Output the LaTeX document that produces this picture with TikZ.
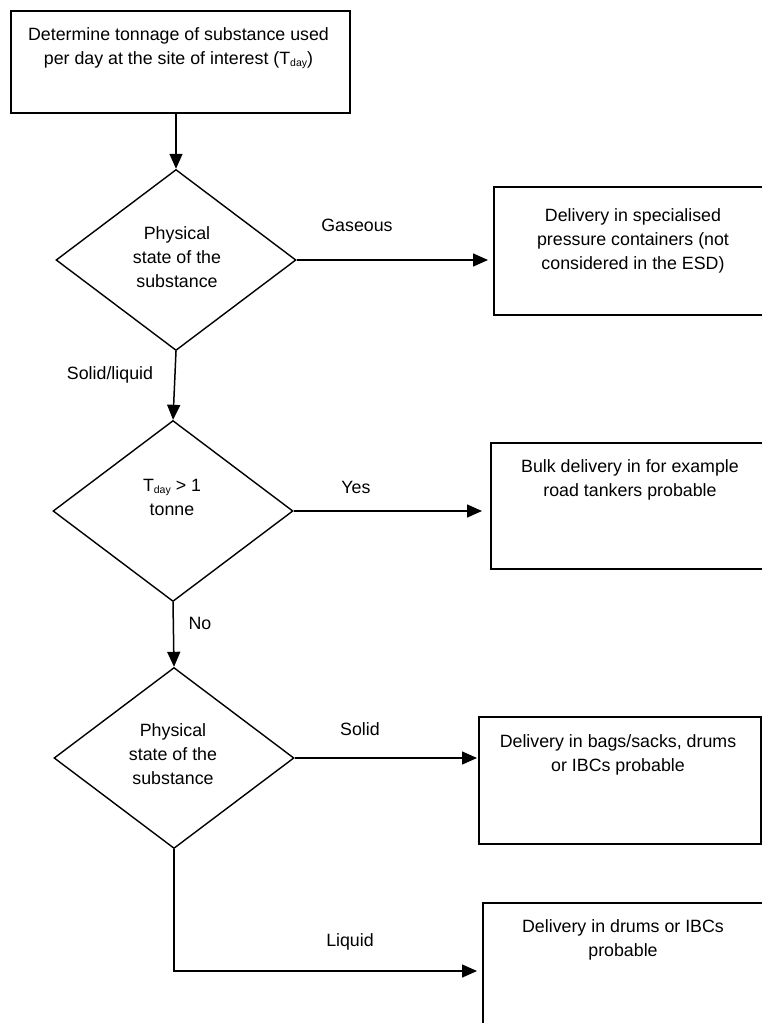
\documentclass[tikz,border=0pt]{standalone}
\usepackage{fontspec}
\setmainfont{Liberation Sans}
\usetikzlibrary{arrows.meta,shapes.geometric}
\newcommand{\Tday}{T\raisebox{-0.3ex}{\fontsize{10.5}{12}\selectfont day}}
\tikzset{
  every node/.style={font=\fontsize{17.8}{24}\selectfont},
  boxnode/.style={draw, line width=1.7pt, rectangle, anchor=north west, inner sep=0pt},
  dnode/.style={draw, line width=1.4pt, diamond, minimum width=240pt, minimum height=181pt, inner sep=0pt},
  txt/.style={align=center, inner sep=0pt, anchor=north},
  dtxt/.style={align=center, inner sep=0pt},
  lbl/.style={inner sep=0pt},
  arr/.style={-{Triangle[length=15pt,width=13pt]}, line width=1.5pt},
}
\begin{document}
\begin{tikzpicture}[x=1pt,y=-1pt]
\useasboundingbox (0,0) rectangle (762,1023);
% boxes
\node[boxnode, minimum width=339pt, minimum height=102pt] (b1) at (10,10) {};
\node[boxnode, minimum width=280pt, minimum height=128pt] (b2) at (493,186) {};
\node[boxnode, minimum width=280pt, minimum height=126pt] (b3) at (490,442) {};
\node[boxnode, minimum width=282pt, minimum height=127pt] (b4) at (478,716) {};
\node[boxnode, minimum width=282pt, minimum height=140pt] (b5) at (482,902) {};
% box texts
\node[txt] (t1) at (178.5,27) {Determine tonnage of substance used\\per day at the site of interest (\Tday)};
\node[txt] (t2) at (633,208) {Delivery in specialised\\pressure containers (not\\considered in the ESD)};
\node[txt] (t3) at (630,459) {Bulk delivery in for example\\road tankers probable};
\node[txt] (t4) at (618,734) {Delivery in bags/sacks, drums\\or IBCs probable};
\node[txt] (t5) at (623,919.5) {Delivery in drums or IBCs\\probable};
% diamonds
\node[dnode] (d1) at (176,260) {};
\node[dnode] (d2) at (173,511) {};
\node[dnode] (d3) at (174,758) {};
\node[dtxt] (dt1) at (177,257) {Physical\\state of the\\substance};
\node[dtxt] (dt2) at (172,497) {\Tday{} > 1\\tonne};
\node[dtxt] (dt3) at (173,754) {Physical\\state of the\\substance};
% labels
\node[lbl] (lg) at (357,225) {Gaseous};
\node[lbl] (ly) at (356,487) {Yes};
\node[lbl] (lsl) at (110,375) {Solid/liquid};
\node[lbl] (ln) at (200,623) {No};
\node[lbl] (ls) at (360,729) {Solid};
\node[lbl] (ll) at (350,942) {Liquid};
% connectors
\coordinate (liqc) at (174,971);
\draw[arr] (d1.north |- b1.south) -- (d1.north);
\draw[arr, shorten >=5pt] (d1.east) -- (d1.east -| b2.west);
\draw[arr] (d1.south) -- (d2.north);
\draw[arr, shorten >=8pt] (d2.east) -- (d2.east -| b3.west);
\draw[arr] (d2.south) -- (d3.north);
\draw[arr, shorten >=1pt] (d3.east) -- (d3.east -| b4.west);
\draw[arr, shorten >=5pt] (d3.south) -- (liqc) -- (liqc -| b5.west);
\end{tikzpicture}
\end{document}
